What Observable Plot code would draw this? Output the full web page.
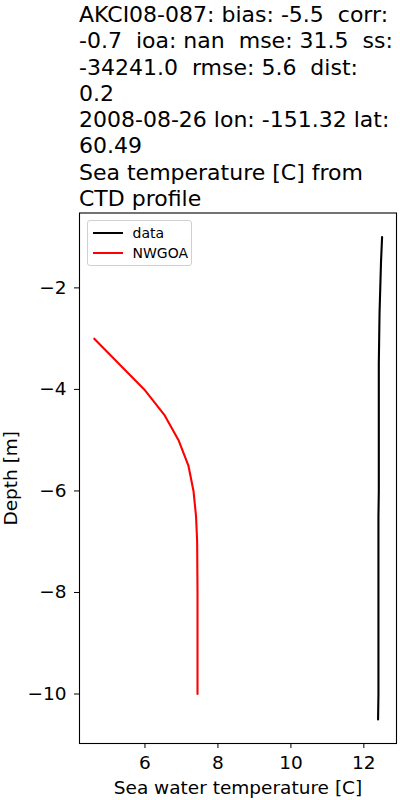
<!DOCTYPE html>
<html>
<head>
<meta charset="utf-8">
<script src="https://cdn.jsdelivr.net/npm/d3@7"></script>
<script src="https://cdn.jsdelivr.net/npm/@observablehq/plot@0.6"></script>
<style>
  html, body { margin: 0; padding: 0; background: #fff; }
  #fig { position: relative; width: 400px; height: 800px; font-family: "DejaVu Sans", sans-serif; }
  #title { position: absolute; left: 79px; top: 2px; font-size: 22px; line-height: 26.3px; color: #000; white-space: pre; }
  #legend { position: absolute; left: 86.5px; top: 220px; width: 103px; height: 44px; border: 1px solid #d0d0d0; border-radius: 3px; background: rgba(255,255,255,0.8); font-size: 14px; }
  .item { position: absolute; left: 5px; height: 16px; display: flex; align-items: center; }
  .sw { width: 30px; height: 2px; margin-right: 10px; }
</style>
</head>
<body>
<div id="fig">
  <div id="chart"></div>
  <div id="title"></div>
  <div id="legend"></div>
</div>
<script>
const titleLines = [
  "AKCI08-087: bias: -5.5  corr:",
  "-0.7  ioa: nan  mse: 31.5  ss:",
  "-34241.0  rmse: 5.6  dist:",
  "0.2",
  "2008-08-26 lon: -151.32 lat:",
  "60.49",
  "Sea temperature [C] from",
  "CTD profile"
];

const dataDepth = [-1, -1.5, -2, -2.5, -3, -3.5, -4, -4.5, -5, -5.5, -6, -6.5, -7, -7.5, -8, -8.5, -9, -9.5, -10, -10.5];
const dataTemp  = [12.50, 12.47, 12.45, 12.43, 12.42, 12.41, 12.41, 12.41, 12.41, 12.41, 12.41, 12.40, 12.40, 12.40, 12.40, 12.40, 12.40, 12.40, 12.40, 12.39];

const modelDepth = [-3, -4, -4.5, -5, -5.5, -6, -6.5, -7, -8, -9, -10];
const modelTemp  = [4.61, 5.98, 6.53, 6.92, 7.19, 7.33, 7.40, 7.43, 7.44, 7.44, 7.44];

const seriesNames = ["data", "NWGOA"];
const seriesColors = ["#000000", "#ff0000"];
const xTicks = [6, 8, 10, 12];
const yTicks = [-2, -4, -6, -8, -10];

const dataRows = dataDepth.map((d, i) => ({depth: d, temp: dataTemp[i]}));
const modelRows = modelDepth.map((d, i) => ({depth: d, temp: modelTemp[i]}));

document.getElementById("title").textContent = titleLines.join("\n");

const fmt = d3.format("d");
const plot = Plot.plot({
  width: 400,
  height: 800,
  marginLeft: 79,
  marginRight: 4,
  marginTop: 212.5,
  marginBottom: 57,
  style: { fontFamily: "DejaVu Sans, sans-serif", fontSize: "18.5px", color: "#000", background: "#fff" },
  x: { domain: [4.205, 12.895], ticks: xTicks, tickFormat: fmt, tickSize: 5, tickPadding: 7,
       label: "Sea water temperature [C]", labelAnchor: "center", labelArrow: "none", labelOffset: 50 },
  y: { domain: [-10.975, -0.525], ticks: yTicks, tickFormat: fmt, tickSize: 5, tickPadding: 8,
       label: "Depth [m]", labelAnchor: "center", labelArrow: "none", labelOffset: 76 },
  marks: [
    Plot.line(dataRows, {x: "temp", y: "depth", stroke: seriesColors[0], strokeWidth: 2.1, sort: null}),
    Plot.line(modelRows, {x: "temp", y: "depth", stroke: seriesColors[1], strokeWidth: 2.1, sort: null}),
    Plot.frame({stroke: "#000", strokeWidth: 1.1})
  ]
});
document.getElementById("chart").appendChild(plot);

const leg = document.getElementById("legend");
seriesNames.forEach((n, i) => {
  const it = document.createElement("div");
  it.className = "item";
  it.style.top = (4 + i * 20) + "px";
  const sw = document.createElement("div");
  sw.className = "sw";
  sw.style.background = seriesColors[i];
  const t = document.createElement("span");
  t.textContent = n;
  it.appendChild(sw); it.appendChild(t);
  leg.appendChild(it);
});
</script>
</body>
</html>
